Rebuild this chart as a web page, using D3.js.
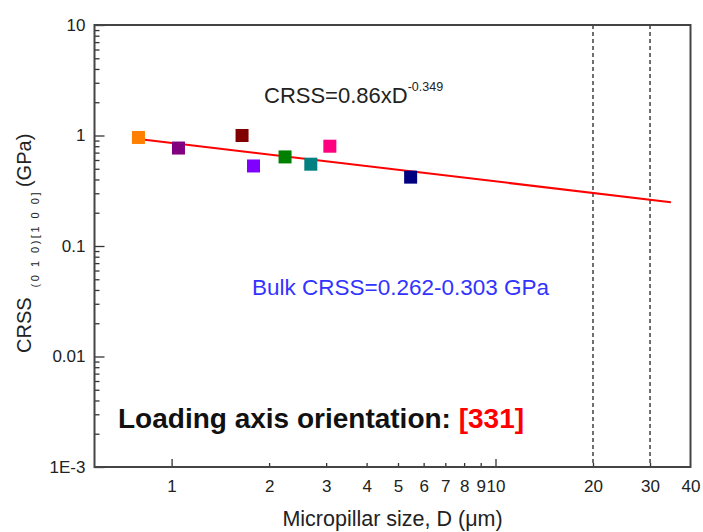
<!DOCTYPE html>
<html>
<head>
<meta charset="utf-8">
<script src="https://cdn.jsdelivr.net/npm/d3@7"></script>
<style>
  body { margin: 0; background: #fff; }
  text { font-family: "Liberation Sans", Arial, sans-serif; }
</style>
</head>
<body>
<div class="chart"></div>
<script>
// CRSS vs micropillar size, log-log
var pillarSize = [0.79, 1.05, 1.65, 1.79, 2.24, 2.69, 3.08, 5.47];
var pillarCRSS = [0.96, 0.77, 1.0, 0.53, 0.64, 0.55, 0.80, 0.42];
var pillarColor = ["#ff8000", "#800080", "#800000", "#8000ff", "#008000", "#008080", "#ff0080", "#000080"];

// fitted power law end points
var fitSize = [0.79, 34.8];
var fitCRSS = [0.93, 0.249];

// dashed reference sizes
var refSize = [20, 30];

var xTickValues = [1, 2, 3, 4, 5, 6, 7, 8, 9, 10, 20, 30, 40];
var xMajorTicks = [1, 10];
var xMinorTicks = [2, 3, 4, 5, 6, 7, 8, 9, 20, 30];
var yTickValues = [10, 1, 0.1, 0.01, 0.001];
var yTickLabels = ["10", "1", "0.1", "0.01", "1E-3"];
var yMinorTicks = [];
[0.001, 0.01, 0.1, 1].forEach(function (d) {
  for (var k = 2; k <= 9; k++) yMinorTicks.push(d * k);
});

var svgWidth = 703;
var svgHeight = 532;
var margin = { top: 25, right: 12.5, bottom: 65, left: 94.5 };
var width = svgWidth - margin.left - margin.right;
var height = svgHeight - margin.top - margin.bottom;

var svg = d3.select(".chart")
  .append("svg")
  .attr("width", svgWidth)
  .attr("height", svgHeight);

var chartGroup = svg.append("g")
  .attr("transform", `translate(${margin.left}, ${margin.top})`);

var x = d3.scaleLog().domain([0.578, 40]).range([0, width]);
var y = d3.scaleLog().domain([0.001, 10]).range([height, 0]);

// tick marks (inward)
function tickMarks(g) {
  g.select(".domain").remove();
  g.selectAll("line").attr("stroke", "#333").attr("stroke-width", 1.3);
}

chartGroup.append("g")
  .attr("transform", `translate(0, ${height})`)
  .call(d3.axisBottom(x).tickValues(xMajorTicks).tickSize(-8).tickFormat(""))
  .call(tickMarks);
chartGroup.append("g")
  .attr("transform", `translate(0, ${height})`)
  .call(d3.axisBottom(x).tickValues(xMinorTicks).tickSize(-4).tickFormat(""))
  .call(tickMarks);
chartGroup.append("g")
  .call(d3.axisLeft(y).tickValues(yTickValues).tickSize(-10).tickFormat(""))
  .call(tickMarks);
chartGroup.append("g")
  .call(d3.axisLeft(y).tickValues(yMinorTicks).tickSize(-5).tickFormat(""))
  .call(tickMarks);

// tick labels
var xLabels = chartGroup.append("g")
  .attr("transform", `translate(0, ${height})`)
  .call(d3.axisBottom(x).tickValues(xTickValues).tickSize(0).tickPadding(13).tickFormat(d3.format("d")));
xLabels.select(".domain").remove();
xLabels.selectAll("text").attr("font-size", 17).attr("fill", "#222")
  .style("font-family", "Liberation Sans, Arial, sans-serif");

var yLabels = chartGroup.append("g")
  .call(d3.axisLeft(y).tickValues(yTickValues).tickSize(0).tickPadding(9)
    .tickFormat(function (d, i) { return yTickLabels[i]; }));
yLabels.select(".domain").remove();
yLabels.selectAll("text").attr("font-size", 17).attr("fill", "#222")
  .style("font-family", "Liberation Sans, Arial, sans-serif");

// dashed lines at bulk sizes
chartGroup.selectAll(".ref")
  .data(refSize)
  .enter()
  .append("line")
  .attr("x1", d => x(d))
  .attr("x2", d => x(d))
  .attr("y1", 0)
  .attr("y2", height)
  .attr("stroke", "#333")
  .attr("stroke-width", 1.4)
  .attr("stroke-dasharray", "4,3");

// fit line
var fitData = fitSize.map((d, i) => [d, fitCRSS[i]]);
chartGroup.append("path")
  .datum(fitData)
  .attr("d", d3.line().x(d => x(d[0])).y(d => y(d[1])))
  .attr("fill", "none")
  .attr("stroke", "#ff0000")
  .attr("stroke-width", 2);

// markers
var box = 13;
chartGroup.selectAll(".pt")
  .data(pillarSize)
  .enter()
  .append("rect")
  .attr("x", (d, i) => x(d) - box / 2)
  .attr("y", (d, i) => y(pillarCRSS[i]) - box / 2)
  .attr("width", box)
  .attr("height", box)
  .attr("fill", (d, i) => pillarColor[i]);

// frame
chartGroup.append("rect")
  .attr("width", width)
  .attr("height", height)
  .attr("fill", "none")
  .attr("stroke", "#444")
  .attr("stroke-width", 2);

// annotations
var eq = svg.append("text")
  .attr("x", 264)
  .attr("y", 103)
  .attr("font-size", 22)
  .attr("fill", "#222");
eq.append("tspan").text("CRSS=0.86xD");
eq.append("tspan").attr("font-size", 12.5).attr("dy", -12).text("-0.349");

svg.append("text")
  .attr("x", 252)
  .attr("y", 295)
  .attr("font-size", 22.5)
  .attr("fill", "#3333ff")
  .text("Bulk CRSS=0.262-0.303 GPa");

var orient = svg.append("text")
  .attr("x", 118)
  .attr("y", 428)
  .attr("font-size", 28)
  .attr("font-weight", "bold")
  .attr("fill", "#111");
orient.append("tspan").text("Loading axis orientation: ");
orient.append("tspan").attr("fill", "#ff0000").text("[331]");

// axis titles
svg.append("text")
  .attr("x", margin.left + width / 2)
  .attr("y", 526)
  .attr("text-anchor", "middle")
  .attr("font-size", 21.5)
  .attr("fill", "#222")
  .text("Micropillar size, D (\u03bcm)");

var yTitle = svg.append("text")
  .attr("transform", "translate(31, 353) rotate(-90)")
  .attr("font-size", 20)
  .attr("fill", "#222");
yTitle.append("tspan").text("CRSS");
yTitle.append("tspan").attr("dx", 10).attr("dy", 8).attr("font-size", 11)
  .attr("letter-spacing", 2.5).text("(0 1 0)[1 0 0]");
yTitle.append("tspan").attr("dx", 3).attr("dy", -8).text("(GPa)");
</script>
</body>
</html>
